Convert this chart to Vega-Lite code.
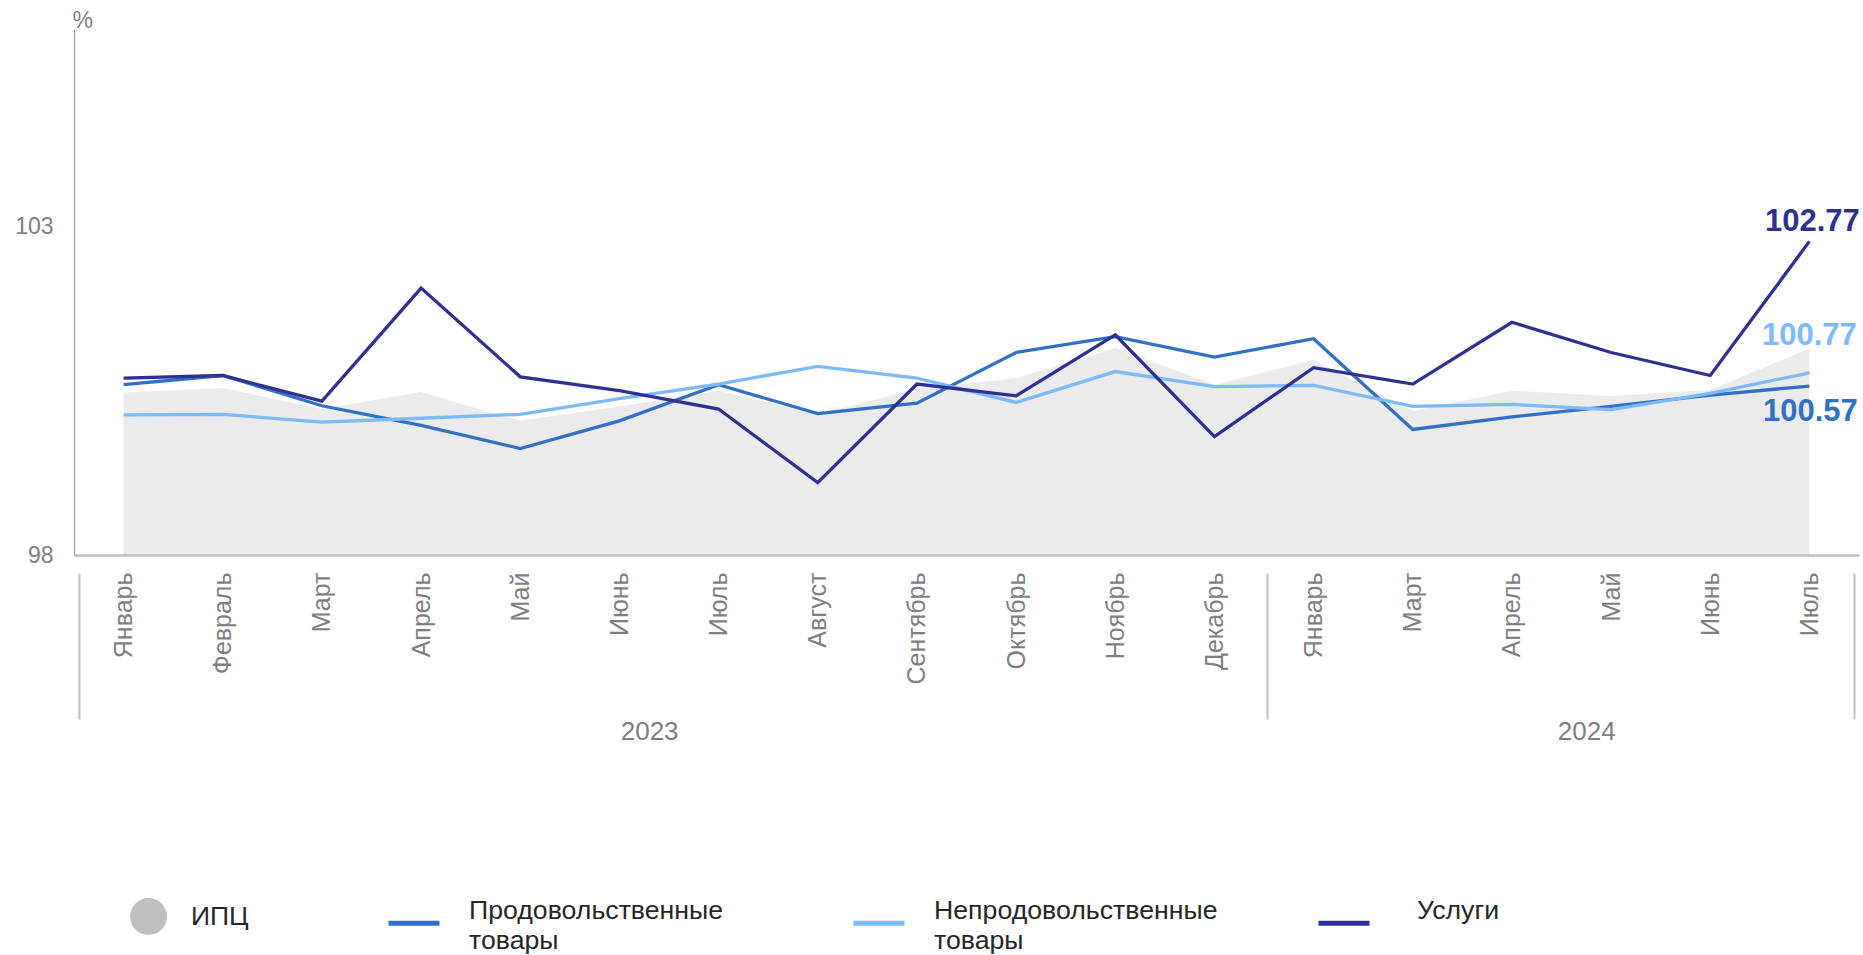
{
  "$schema": "https://vega.github.io/schema/vega-lite/v6.json",
  "autosize": {"type": "none"},
  "width": 1785,
  "height": 526,
  "padding": {"left": 74, "top": 29, "right": 4, "bottom": 400},
  "background": "white",
  "config": {"view": {"stroke": null}, "font": "Liberation Sans", "axis": {"grid": false}},
  "datasets": {
    "ipc": [
      {"i": 0, "name": "ИПЦ", "v": 100.47},
      {"i": 1, "name": "ИПЦ", "v": 100.54},
      {"i": 2, "name": "ИПЦ", "v": 100.22},
      {"i": 3, "name": "ИПЦ", "v": 100.48},
      {"i": 4, "name": "ИПЦ", "v": 100.04},
      {"i": 5, "name": "ИПЦ", "v": 100.26},
      {"i": 6, "name": "ИПЦ", "v": 100.50},
      {"i": 7, "name": "ИПЦ", "v": 100.14},
      {"i": 8, "name": "ИПЦ", "v": 100.53},
      {"i": 9, "name": "ИПЦ", "v": 100.69},
      {"i": 10, "name": "ИПЦ", "v": 101.15},
      {"i": 11, "name": "ИПЦ", "v": 100.59},
      {"i": 12, "name": "ИПЦ", "v": 100.97},
      {"i": 13, "name": "ИПЦ", "v": 100.19},
      {"i": 14, "name": "ИПЦ", "v": 100.50},
      {"i": 15, "name": "ИПЦ", "v": 100.42},
      {"i": 16, "name": "ИПЦ", "v": 100.51},
      {"i": 17, "name": "ИПЦ", "v": 101.14}
    ],
    "series": [
      {"i": 0, "series": "Продовольственные товары", "v": 100.59},
      {"i": 1, "series": "Продовольственные товары", "v": 100.73},
      {"i": 2, "series": "Продовольственные товары", "v": 100.27},
      {"i": 3, "series": "Продовольственные товары", "v": 99.97},
      {"i": 4, "series": "Продовольственные товары", "v": 99.62},
      {"i": 5, "series": "Продовольственные товары", "v": 100.04},
      {"i": 6, "series": "Продовольственные товары", "v": 100.59},
      {"i": 7, "series": "Продовольственные товары", "v": 100.15},
      {"i": 8, "series": "Продовольственные товары", "v": 100.31},
      {"i": 9, "series": "Продовольственные товары", "v": 101.08},
      {"i": 10, "series": "Продовольственные товары", "v": 101.32},
      {"i": 11, "series": "Продовольственные товары", "v": 101.01},
      {"i": 12, "series": "Продовольственные товары", "v": 101.29},
      {"i": 13, "series": "Продовольственные товары", "v": 99.91},
      {"i": 14, "series": "Продовольственные товары", "v": 100.10},
      {"i": 15, "series": "Продовольственные товары", "v": 100.26},
      {"i": 16, "series": "Продовольственные товары", "v": 100.43},
      {"i": 17, "series": "Продовольственные товары", "v": 100.57},
      {"i": 0, "series": "Непродовольственные товары", "v": 100.13},
      {"i": 1, "series": "Непродовольственные товары", "v": 100.14},
      {"i": 2, "series": "Непродовольственные товары", "v": 100.02},
      {"i": 3, "series": "Непродовольственные товары", "v": 100.08},
      {"i": 4, "series": "Непродовольственные товары", "v": 100.14},
      {"i": 5, "series": "Непродовольственные товары", "v": 100.38},
      {"i": 6, "series": "Непродовольственные товары", "v": 100.60},
      {"i": 7, "series": "Непродовольственные товары", "v": 100.87},
      {"i": 8, "series": "Непродовольственные товары", "v": 100.69},
      {"i": 9, "series": "Непродовольственные товары", "v": 100.32},
      {"i": 10, "series": "Непродовольственные товары", "v": 100.79},
      {"i": 11, "series": "Непродовольственные товары", "v": 100.56},
      {"i": 12, "series": "Непродовольственные товары", "v": 100.58},
      {"i": 13, "series": "Непродовольственные товары", "v": 100.26},
      {"i": 14, "series": "Непродовольственные товары", "v": 100.29},
      {"i": 15, "series": "Непродовольственные товары", "v": 100.21},
      {"i": 16, "series": "Непродовольственные товары", "v": 100.46},
      {"i": 17, "series": "Непродовольственные товары", "v": 100.77},
      {"i": 0, "series": "Услуги", "v": 100.69},
      {"i": 1, "series": "Услуги", "v": 100.73},
      {"i": 2, "series": "Услуги", "v": 100.34},
      {"i": 3, "series": "Услуги", "v": 102.06},
      {"i": 4, "series": "Услуги", "v": 100.71},
      {"i": 5, "series": "Услуги", "v": 100.50},
      {"i": 6, "series": "Услуги", "v": 100.22},
      {"i": 7, "series": "Услуги", "v": 99.10},
      {"i": 8, "series": "Услуги", "v": 100.60},
      {"i": 9, "series": "Услуги", "v": 100.42},
      {"i": 10, "series": "Услуги", "v": 101.35},
      {"i": 11, "series": "Услуги", "v": 99.80},
      {"i": 12, "series": "Услуги", "v": 100.85},
      {"i": 13, "series": "Услуги", "v": 100.60},
      {"i": 14, "series": "Услуги", "v": 101.54},
      {"i": 15, "series": "Услуги", "v": 101.08},
      {"i": 16, "series": "Услуги", "v": 100.73},
      {"i": 17, "series": "Услуги", "v": 102.77}
    ]
  },
  "layer": [
    {
      "data": {"name": "ipc"},
      "mark": {"type": "area", "interpolate": "linear", "fillOpacity": 0.31},
      "encoding": {
        "x": {
          "field": "i", "type": "quantitative",
          "scale": {"domain": [-0.5, 17.5], "nice": false, "zero": false},
          "axis": {
            "orient": "bottom",
            "values": [0, 1, 2, 3, 4, 5, 6, 7, 8, 9, 10, 11, 12, 13, 14, 15, 16, 17],
            "labelExpr": "['Январь','Февраль','Март','Апрель','Май','Июнь','Июль','Август','Сентябрь','Октябрь','Ноябрь','Декабрь','Январь','Март','Апрель','Май','Июнь','Июль'][datum.value]",
            "labelAngle": -90, "labelAlign": "right", "labelBaseline": "middle",
            "labelPadding": 17, "ticks": false, "tickSize": 0,
            "domainColor": "#bfbfbf", "domainWidth": 2.5,
            "labelColor": "#7f7f7f", "labelFontSize": 25,
            "labelOverlap": false, "labelFlush": false, "labelBound": false, "title": null
          }
        },
        "y": {
          "field": "v", "type": "quantitative",
          "scale": {"domain": [98, 106], "nice": false, "zero": false},
          "axis": {
            "values": [98, 103], "format": "d", "ticks": false, "tickSize": 0, "labelPadding": 21,
            "labelColor": "#7f7f7f", "labelFontSize": 23,
            "domainColor": "#a6a6a6", "domainWidth": 1.2,
            "title": "%", "titleAngle": 0, "titleX": -2, "titleY": -2,
            "titleAlign": "left", "titleBaseline": "alphabetic",
            "titleFontWeight": "normal", "titleFontSize": 23, "titleColor": "#7f7f7f"
          }
        },
        "y2": {"datum": 98},
        "fill": {
          "field": "name", "type": "nominal",
          "scale": {"domain": ["ИПЦ"], "range": ["#bfbfbf"]},
          "legend": {
            "orient": "none", "legendX": 56, "legendY": 869, "title": null,
            "symbolType": "circle", "symbolSize": 1369, "labelOffset": 24,
            "symbolOpacity": 1, "symbolStrokeWidth": 0,
            "labelFontSize": 26.5, "labelColor": "#262626", "padding": 0,
            "encode": {"symbols": {"update": {"opacity": {"value": 1}, "fillOpacity": {"value": 1}}}}
          }
        }
      }
    },
    {
      "data": {"name": "series"},
      "mark": {"type": "line", "strokeWidth": 3.3},
      "encoding": {
        "x": {
          "field": "i", "type": "quantitative",
          "axis": {
            "orient": "bottom",
            "values": [5.3, 14.75],
            "labelExpr": "datum.value < 10 ? '2023' : '2024'",
            "labelAngle": 0, "ticks": false, "domain": false,
            "labelPadding": 176, "labelBaseline": "middle", "labelAlign": "center",
            "labelColor": "#7f7f7f", "labelFontSize": 26, "title": null,
            "labelFlush": false, "labelOverlap": false
          }
        },
        "y": {"field": "v", "type": "quantitative"},
        "stroke": {
          "field": "series", "type": "nominal",
          "scale": {
            "domain": ["Продовольственные товары", "Непродовольственные товары", "Услуги"],
            "range": ["#3071c5", "#7dbafc", "#2e3192"]
          },
          "legend": {
            "orient": "none", "legendX": 312, "legendY": 866, "direction": "horizontal",
            "title": null, "symbolType": "stroke", "symbolSize": 2601, "symbolStrokeWidth": 5,
            "labelOffset": 27, "labelFontSize": 26.7, "labelColor": "#262626", "labelLimit": 600,
            "gridAlign": "all", "columnPadding": 90, "padding": 0,
            "labelExpr": "indexof(datum.label, ' ') > 0 ? split(datum.label, ' ') : [datum.label, ' ']",
            "labelBaseline": "middle",
            "encode": {"labels": {"update": {"dy": {"value": -12}, "lineHeight": {"value": 30}, "dx": {"signal": "datum.value == 'Услуги' ? 18 : 0"}}}}
          }
        }
      }
    },
    {
      "data": {"name": "series"},
      "transform": [{"filter": "datum.i == 17 && datum.series == 'Услуги'"}],
      "mark": {"type": "text", "fontWeight": "bold", "fontSize": 31, "align": "center", "baseline": "middle", "dy": -19, "dx": 3, "color": "#2e3192"},
      "encoding": {
        "x": {
          "field": "i", "type": "quantitative",
          "axis": {
            "orient": "bottom",
            "values": [-0.45, 11.53, 17.45],
            "labels": false, "domain": false, "ticks": true,
            "tickSize": 146, "tickWidth": 2, "tickColor": "#bfbfbf",
            "offset": 18, "title": null
          }
        },
        "y": {"field": "v", "type": "quantitative"},
        "text": {"field": "v", "type": "quantitative", "format": ".2f"}
      }
    },
    {
      "data": {"name": "series"},
      "transform": [{"filter": "datum.i == 17 && datum.series == 'Непродовольственные товары'"}],
      "mark": {"type": "text", "fontWeight": "bold", "fontSize": 31, "align": "center", "baseline": "middle", "dy": -37, "color": "#7dbafc"},
      "encoding": {
        "x": {"field": "i", "type": "quantitative", "axis": null},
        "y": {"field": "v", "type": "quantitative"},
        "text": {"field": "v", "type": "quantitative", "format": ".2f"}
      }
    },
    {
      "data": {"name": "series"},
      "transform": [{"filter": "datum.i == 17 && datum.series == 'Продовольственные товары'"}],
      "mark": {"type": "text", "fontWeight": "bold", "fontSize": 31, "align": "center", "baseline": "middle", "dy": 26, "dx": 1, "color": "#3071c5"},
      "encoding": {
        "x": {"field": "i", "type": "quantitative", "axis": null},
        "y": {"field": "v", "type": "quantitative"},
        "text": {"field": "v", "type": "quantitative", "format": ".2f"}
      }
    }
  ],
  "resolve": {"axis": {"x": "independent"}}
}
